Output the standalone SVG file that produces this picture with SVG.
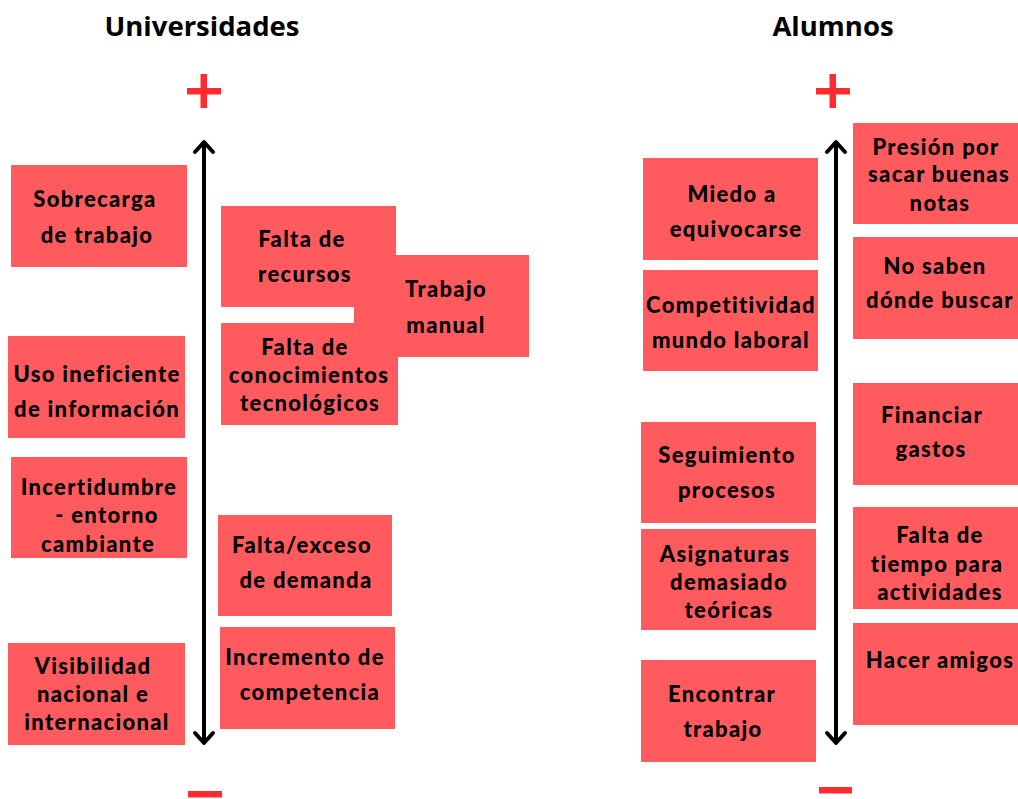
<svg xmlns="http://www.w3.org/2000/svg" width="1018" height="799" viewBox="0 0 1018 799">
  <style>
    .title { font-family: "Open Sans", "Noto Sans", sans-serif; font-weight: bold; font-size: 27.5px; fill: #000; text-anchor: middle; }
    .box { fill: #ff5b5e; }
    .lbl { font-family: Lato, "Liberation Sans", sans-serif; font-weight: 900; font-size: 22px; letter-spacing: 1.3px; fill: #000; text-anchor: middle; }
    .sign { fill: #ff2b2f; }
    .axis { stroke: #000; stroke-width: 4; fill: none; }
  </style>
  <defs>
    <marker id="chev" markerUnits="userSpaceOnUse" viewBox="-16 -14 20 28" markerWidth="20" markerHeight="28" refX="0" refY="0" orient="auto-start-reverse">
      <path d="M-10,-9 L0,0 L-10,9" fill="none" stroke="#000" stroke-width="4" stroke-linecap="round" stroke-linejoin="round"/>
    </marker>
  </defs>
  <rect width="1018" height="799" fill="#fff"/>

  <text class="title" x="202" y="36">Universidades</text>
  <text class="title" x="833" y="36">Alumnos</text>

  <g id="signs">
    <rect class="sign" x="187" y="88" width="34" height="6.5"/>
    <rect class="sign" x="200.5" y="74" width="6.5" height="34"/>
    <rect class="sign" x="188" y="791" width="34" height="6.5"/>
    <rect class="sign" x="816" y="88" width="34" height="6.5"/>
    <rect class="sign" x="829.5" y="74" width="6.5" height="34"/>
    <rect class="sign" x="819" y="787" width="33" height="6.5"/>
  </g>

  <g id="connectors">
    <path class="axis" d="M204,142 L204,743" marker-start="url(#chev)" marker-end="url(#chev)"/>
    <path class="axis" d="M836,142 L836,743" marker-start="url(#chev)" marker-end="url(#chev)"/>
  </g>

  <g id="sobrecarga">
    <rect class="box" x="11" y="165" width="176" height="102"/>
    <text class="lbl" x="95" y="207">Sobrecarga</text>
    <text class="lbl" x="97" y="243">de trabajo</text>
  </g>
  <g id="falta-recursos">
    <rect class="box" x="221" y="206" width="175" height="101"/>
    <text class="lbl" x="302" y="247">Falta de</text>
    <text class="lbl" x="305" y="282">recursos</text>
  </g>
  <g id="trabajo-manual">
    <rect class="box" x="354" y="255" width="175" height="102"/>
    <text class="lbl" x="446" y="297">Trabajo</text>
    <text class="lbl" x="446" y="333">manual</text>
  </g>
  <g id="falta-conocimientos">
    <rect class="box" x="221" y="323" width="177" height="102"/>
    <text class="lbl" x="305" y="355">Falta de</text>
    <text class="lbl" x="309" y="383">conocimientos</text>
    <text class="lbl" x="310" y="411">tecnológicos</text>
  </g>
  <g id="uso-ineficiente">
    <rect class="box" x="8" y="336" width="177" height="102"/>
    <text class="lbl" x="97" y="382">Uso ineficiente</text>
    <text class="lbl" x="97" y="417">de información</text>
  </g>
  <g id="incertidumbre">
    <rect class="box" x="11" y="457" width="176" height="101"/>
    <text class="lbl" x="99" y="495">Incertidumbre</text>
    <text class="lbl" x="107" y="523">- entorno</text>
    <text class="lbl" x="98" y="552">cambiante</text>
  </g>
  <g id="falta-exceso">
    <rect class="box" x="218" y="515" width="174" height="101"/>
    <text class="lbl" x="302" y="553">Falta/exceso</text>
    <text class="lbl" x="306" y="588">de demanda</text>
  </g>
  <g id="incremento">
    <rect class="box" x="220" y="627" width="175" height="102"/>
    <text class="lbl" x="305" y="665">Incremento de</text>
    <text class="lbl" x="310" y="700">competencia</text>
  </g>
  <g id="visibilidad">
    <rect class="box" x="8" y="643" width="177" height="102"/>
    <text class="lbl" x="93" y="674">Visibilidad</text>
    <text class="lbl" x="93" y="702">nacional e</text>
    <text class="lbl" x="97" y="730">internacional</text>
  </g>

  <g id="miedo">
    <rect class="box" x="643" y="158" width="175" height="102"/>
    <text class="lbl" x="732" y="202">Miedo a</text>
    <text class="lbl" x="736" y="237">equivocarse</text>
  </g>
  <g id="competitividad">
    <rect class="box" x="643" y="270" width="175" height="101"/>
    <text class="lbl" x="731" y="313">Competitividad</text>
    <text class="lbl" x="731" y="348">mundo laboral</text>
  </g>
  <g id="seguimiento">
    <rect class="box" x="641" y="422" width="175" height="101"/>
    <text class="lbl" x="727" y="463">Seguimiento</text>
    <text class="lbl" x="727" y="498">procesos</text>
  </g>
  <g id="asignaturas">
    <rect class="box" x="641" y="529" width="175" height="101"/>
    <text class="lbl" x="725" y="562">Asignaturas</text>
    <text class="lbl" x="729" y="590">demasiado</text>
    <text class="lbl" x="729" y="618">teóricas</text>
  </g>
  <g id="encontrar">
    <rect class="box" x="641" y="660" width="175" height="102"/>
    <text class="lbl" x="722" y="702">Encontrar</text>
    <text class="lbl" x="723" y="737">trabajo</text>
  </g>
  <g id="presion">
    <rect class="box" x="853" y="123" width="175" height="101"/>
    <text class="lbl" x="936" y="155">Presión por</text>
    <text class="lbl" x="939" y="182">sacar buenas</text>
    <text class="lbl" x="940" y="211">notas</text>
  </g>
  <g id="no-saben">
    <rect class="box" x="853" y="237" width="175" height="102"/>
    <text class="lbl" x="935" y="274">No saben</text>
    <text class="lbl" x="940" y="308">dónde buscar</text>
  </g>
  <g id="financiar">
    <rect class="box" x="853" y="383" width="175" height="102"/>
    <text class="lbl" x="932" y="423">Financiar</text>
    <text class="lbl" x="931" y="457">gastos</text>
  </g>
  <g id="falta-tiempo">
    <rect class="box" x="853" y="507" width="175" height="102"/>
    <text class="lbl" x="940" y="543">Falta de</text>
    <text class="lbl" x="937" y="572">tiempo para</text>
    <text class="lbl" x="940" y="600">actividades</text>
  </g>
  <g id="hacer-amigos">
    <rect class="box" x="853" y="623" width="175" height="102"/>
    <text class="lbl" x="940" y="668">Hacer amigos</text>
  </g>
</svg>
